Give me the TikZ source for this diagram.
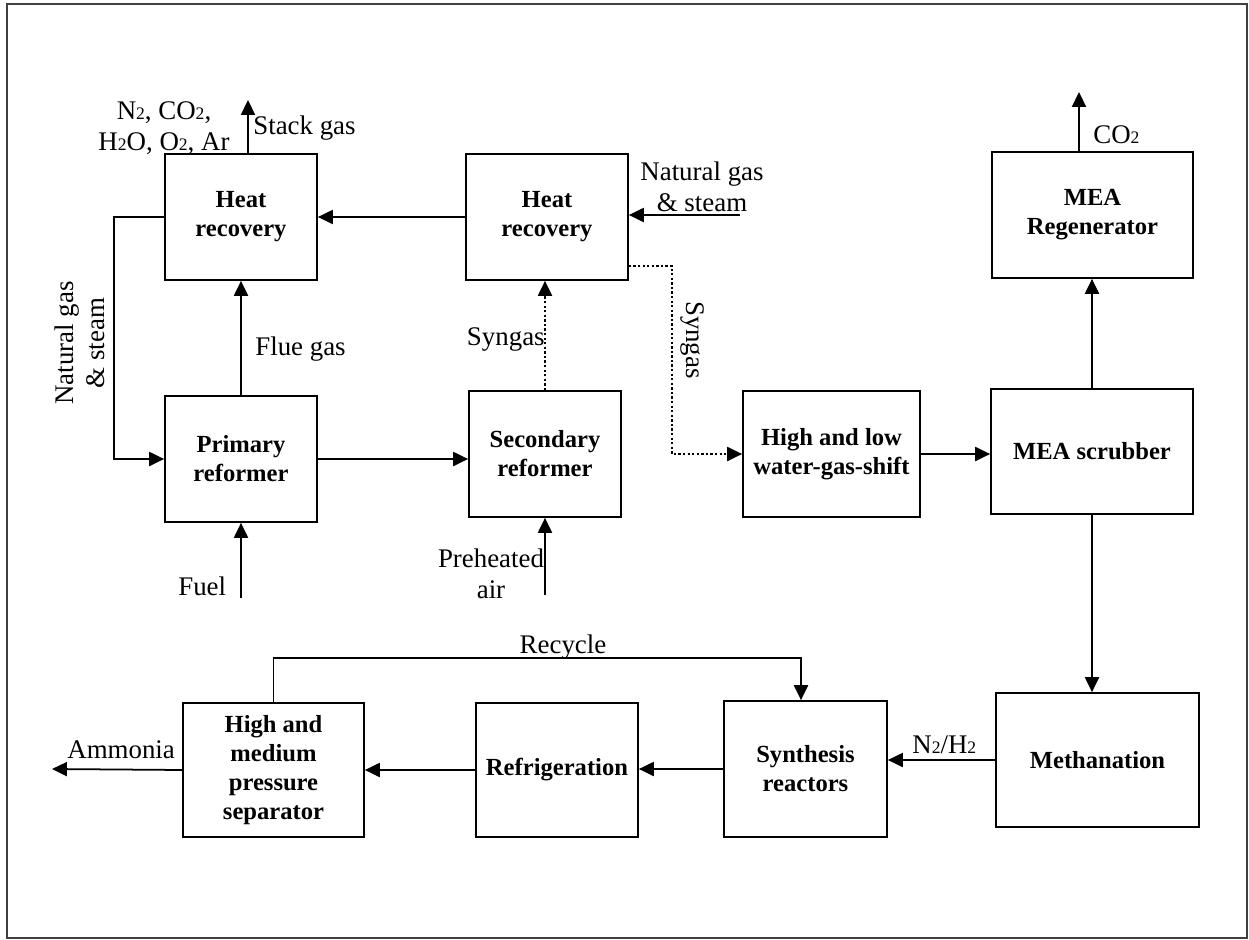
\documentclass[tikz,border=0pt]{standalone}
\usepackage{fontspec}
\setmainfont{Liberation Serif}
\usetikzlibrary{arrows.meta}

% small digit for the gas formulas
\newcommand{\subtwo}{{\fontsize{10}{10}\selectfont 2}}

\tikzset{
  unit/.style 2 args={draw, line width=1pt, minimum width=#1*0.02cm,
    minimum height=#2*0.02cm, align=center, inner sep=2pt,
    font=\fontsize{14}{16.5}\selectfont\bfseries},
  flow/.style={line width=1pt, -{Triangle[length=8.5pt,width=8pt]}},
  synflow/.style={flow, dash pattern=on 1.3pt off 1.3pt},
  lbl/.style={inner sep=0pt, align=center, font=\fontsize{15.3}{17.5}\selectfont}
}

\begin{document}
\begin{tikzpicture}[x=0.02cm, y=-0.02cm]

  \useasboundingbox (0,0) rectangle (1249,940);
  \draw[line width=1pt, black!75] (7,4) rectangle (1247,938);

  % ---- process units ----
  \node[unit={152}{126}] (hrflue)    at (241,217)    {Heat\\recovery};
  \node[unit={162}{126}] (hrsyn)     at (547,217)    {Heat\\recovery};
  \node[unit={152}{126}] (primary)   at (241,459)    {Primary\\reformer};
  \node[unit={152}{126}] (secondary) at (545,454)    {Secondary\\reformer};
  \node[unit={177}{126}] (shift)     at (831.5,454)  {High and low\\water-gas-shift};
  \node[unit={202}{125}] (scrubber)  at (1092,451.5) {MEA scrubber};
  \node[unit={201}{126}] (regen)     at (1092.5,215) {MEA\\Regenerator};
  \node[unit={203}{134}] (methan)    at (1097.5,760) {Methanation};
  \node[unit={163}{136}] (synth)     at (805.5,769)  {Synthesis\\reactors};
  \node[unit={162}{134}] (refrig)    at (557,770)    {Refrigeration};
  \node[unit={181}{134}] (separ)     at (273.5,770)  {High and\\medium\\pressure\\separator};

  % ---- free ends and bends ----
  \coordinate (stacktop) at (248,100);
  \coordinate (ngin)     at (740,215);
  \coordinate (ngloop)   at (114,215);
  \coordinate (fuelin)   at (241,598);
  \coordinate (airin)    at (545,595);
  \coordinate (synbend)  at (672,266);
  \coordinate (co2top)   at (1079,92);
  \coordinate (recyc)    at (801,658);
  \coordinate (ammout)   at (52,769);

  % ---- reforming section ----
  \draw[flow] (stacktop |- hrflue.north) -- (stacktop);
  \draw[flow] (ngin) -- (hrsyn.east |- ngin);
  \draw[flow] (hrsyn.west) -- (hrflue.east);
  \draw[flow] (hrflue.west) -- (hrflue.west -| ngloop) -- (ngloop |- primary.west) -- (primary.west);
  \draw[flow] (primary.north) -- (hrflue.south);
  \draw[flow] (fuelin) -- (primary.south);
  \draw[flow] (airin) -- (secondary.south);
  \draw[flow] (primary.east) -- (primary.east -| secondary.west);
  \draw[synflow] (secondary.north) -- (hrsyn.south -| secondary.north);
  \draw[synflow] (hrsyn.east |- synbend) -- (synbend) -- (synbend |- shift.west) -- (shift.west);

  % ---- purification ----
  \draw[flow] (shift.east) -- (shift.east -| scrubber.west);
  \draw[flow] (scrubber.north) -- (scrubber.north |- regen.south);
  \draw[flow] (co2top |- regen.north) -- (co2top);
  \draw[flow] (scrubber.south) -- (scrubber.south |- methan.north);

  % ---- synthesis loop ----
  \draw[flow] (methan.west) -- (methan.west -| synth.east);
  \draw[flow] (synth.west) -- (synth.west -| refrig.east);
  \draw[flow] (refrig.west) -- (refrig.west -| separ.east);
  \draw[flow] (separ.west) -- (ammout);
  \draw[flow] (separ.north) -- (separ.north |- recyc) -- (recyc) -- (recyc |- synth.north);

  % ---- stream labels ----
  \node[lbl] (stacklbl) at (164,128) {N\subtwo, CO\subtwo,\\H\subtwo O, O\subtwo, Ar};
  \node[lbl, anchor=base west] (stack) at (253,134) {Stack gas};
  \node[lbl] (nglbl) at (702,187) {Natural gas\\\& steam};
  \node[lbl, rotate=90] (ngloopl) at (80,343) {Natural gas\\\& steam};
  \node[lbl, anchor=base west] (flue) at (255,355) {Flue gas};
  \node[lbl, anchor=base east] (syn1) at (545,345) {Syngas};
  \node[lbl, rotate=-90] (syn2) at (692,340) {Syngas};
  \node[lbl, anchor=base west] (fuel) at (178,595) {Fuel};
  \node[lbl] (air) at (491,574) {Preheated\\air};
  \node[lbl, anchor=base west] (co2) at (1093,143) {CO\subtwo};
  \node[lbl, anchor=base] (recycle) at (563,653) {Recycle};
  \node[lbl, anchor=base west] (n2h2) at (912,753) {N\subtwo/H\subtwo};
  \node[lbl, anchor=base west] (amm) at (67,758) {Ammonia};

\end{tikzpicture}
\end{document}
